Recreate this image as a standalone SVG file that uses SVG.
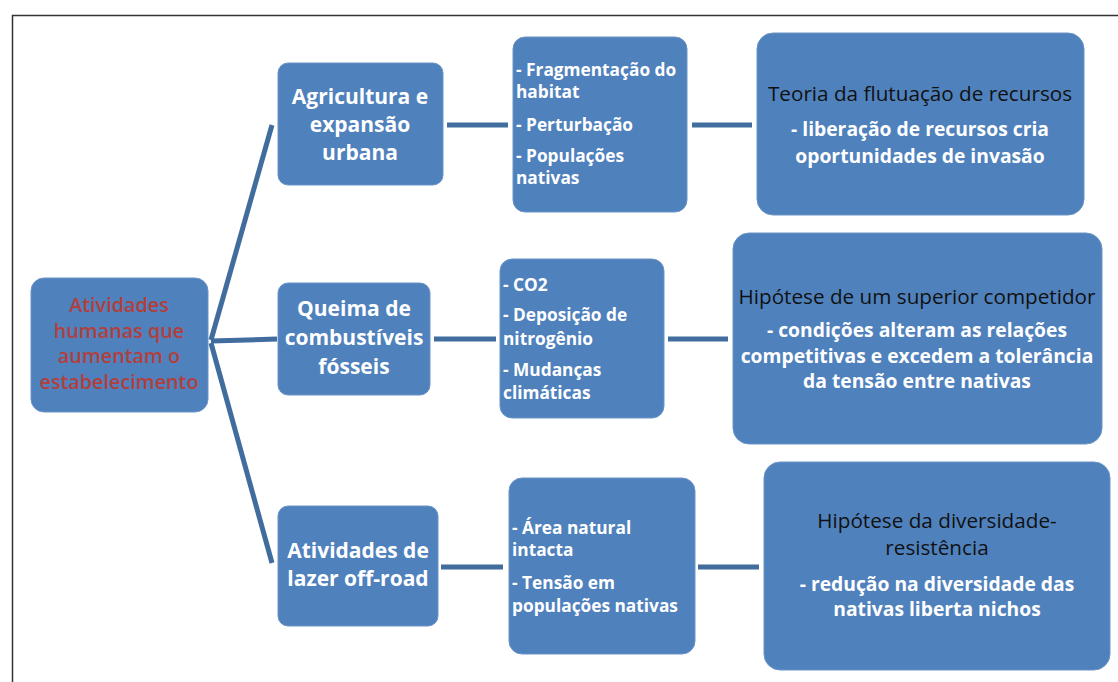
<svg xmlns="http://www.w3.org/2000/svg" width="1118" height="682" viewBox="0 0 1118 682">
<style>
.box{fill:#4f81bd;stroke:#6a93c6;stroke-width:1}
.t{font-family:"Open Sans",Lato,"Liberation Sans",sans-serif}
.w{fill:#ffffff;font-weight:bold}
.main{font-size:21px;text-anchor:middle}
.li{font-size:17.3px}
.hb{fill:#111111;font-size:20.7px;text-anchor:middle}
.hw{font-size:19.3px;text-anchor:middle}
.root{fill:#b23f3c;font-size:19.8px;text-anchor:middle;font-weight:600}
.c{stroke:#416c9e;stroke-width:5;fill:none;stroke-linecap:butt}
</style>
<rect x="0" y="0" width="1118" height="682" fill="#ffffff"/>
<path d="M12.5 682 V15.5 H1118" fill="none" stroke="#333333" stroke-width="1.5"/>
<g id="connectors">
<path class="c" d="M211 340 L272 125"/>
<path class="c" d="M211 341 L277 339"/>
<path class="c" d="M211 343 L272 563"/>
<path class="c" d="M447 125 H508"/>
<path class="c" d="M692 125 H752"/>
<path class="c" d="M434 339 H496"/>
<path class="c" d="M668 339 H728"/>
<path class="c" d="M441 567 H503"/>
<path class="c" d="M698 567 H759"/>
</g>
<g id="root">
<rect class="box" x="31" y="278" width="177" height="134" rx="13"/>
<text class="t root" x="119" y="312">Atividades</text>
<text class="t root" x="119" y="337.5">humanas que</text>
<text class="t root" x="119" y="363">aumentam o</text>
<text class="t root" x="119" y="388.5">estabelecimento</text>
</g>
<g id="agricultura">
<rect class="box" x="278" y="63" width="165" height="122" rx="10"/>
<text class="t w main" x="360" y="104">Agricultura e</text>
<text class="t w main" x="360" y="132">expansão</text>
<text class="t w main" x="360" y="160">urbana</text>
</g>
<g id="fragmentacao">
<rect class="box" x="513" y="37" width="174" height="175" rx="12"/>
<text class="t w li" x="516" y="76">- Fragmentação do</text>
<text class="t w li" x="516" y="98">habitat</text>
<text class="t w li" x="516" y="131">- Perturbação</text>
<text class="t w li" x="516" y="162">- Populações</text>
<text class="t w li" x="516" y="184">nativas</text>
</g>
<g id="teoria">
<rect class="box" x="757" y="33" width="327" height="182" rx="16"/>
<text class="t hb" x="920" y="101">Teoria da flutuação de recursos</text>
<text class="t w hw" x="920" y="136">- liberação de recursos cria</text>
<text class="t w hw" x="920" y="163">oportunidades de invasão</text>
</g>
<g id="queima">
<rect class="box" x="278" y="283" width="152" height="112" rx="10"/>
<text class="t w main" x="354" y="316">Queima de</text>
<text class="t w main" x="354" y="345">combustíveis</text>
<text class="t w main" x="354" y="374">fósseis</text>
</g>
<g id="co2">
<rect class="box" x="500" y="259" width="164" height="159" rx="12"/>
<text class="t w li" x="503" y="291">- CO2</text>
<text class="t w li" x="503" y="321">- Deposição de</text>
<text class="t w li" x="503" y="345">nitrogênio</text>
<text class="t w li" x="503" y="376">- Mudanças</text>
<text class="t w li" x="503" y="399">climáticas</text>
</g>
<g id="competidor">
<rect class="box" x="733" y="233" width="369" height="211" rx="16"/>
<text class="t hb" x="917" y="304">Hipótese de um superior competidor</text>
<text class="t w hw" x="917" y="337">- condições alteram as relações</text>
<text class="t w hw" x="917" y="363">competitivas e excedem a tolerância</text>
<text class="t w hw" x="917" y="388">da tensão entre nativas</text>
</g>
<g id="lazer">
<rect class="box" x="278" y="506" width="160" height="120" rx="10"/>
<text class="t w main" x="358" y="558">Atividades de</text>
<text class="t w main" x="358" y="586">lazer off-road</text>
</g>
<g id="area">
<rect class="box" x="509" y="478" width="186" height="176" rx="13"/>
<text class="t w li" x="512" y="534">- Área natural</text>
<text class="t w li" x="512" y="556">intacta</text>
<text class="t w li" x="512" y="589">- Tensão em</text>
<text class="t w li" x="512" y="612">populações nativas</text>
</g>
<g id="diversidade">
<rect class="box" x="764" y="462" width="346" height="208" rx="16"/>
<text class="t hb" x="937" y="528">Hipótese da diversidade-</text>
<text class="t hb" x="937" y="555">resistência</text>
<text class="t w hw" x="937" y="591">- redução na diversidade das</text>
<text class="t w hw" x="937" y="616">nativas liberta nichos</text>
</g>
</svg>
